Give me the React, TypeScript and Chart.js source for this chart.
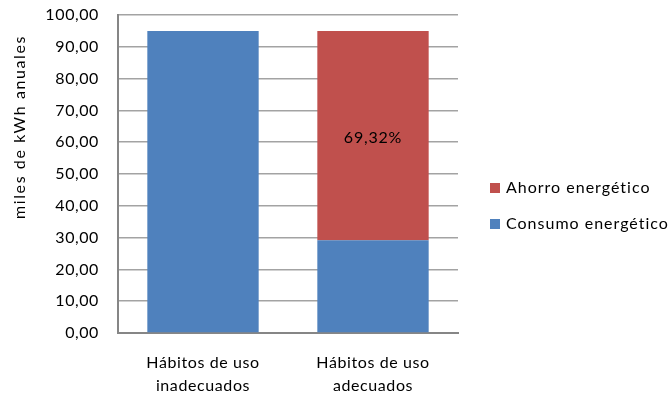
import React, { useEffect, useRef } from "react";
import { Chart, registerables } from "chart.js";

Chart.register(...registerables);

const categories: string[][] = [
  ["Hábitos de uso", "inadecuados"],
  ["Hábitos de uso", "adecuados"],
];
const consumo: number[] = [95.0, 29.15];
const ahorro: number[] = [0, 65.85];
const seriesNames: string[] = ["Consumo energético", "Ahorro energético"];
const yTitle = "miles de kWh anuales";

const BLUE = "#4F81BD";
const RED = "#C0504D";
const GRID = "#a3a3a3";
const AXIS = "#868686";
const FONT = "Lato, 'Noto Sans', sans-serif";

const fmt = (v: number) => v.toFixed(2).replace(".", ",");

const extrasPlugin = {
  id: "extras",
  beforeDraw(chart: any) {
    chart.ctx.letterSpacing = "0.6px";
  },
  afterDatasetsDraw(chart: any) {
    const ctx = chart.ctx;
    const meta = chart.getDatasetMeta(1);
    meta.data.forEach((bar: any, i: number) => {
      const a = ahorro[i];
      if (!a) return;
      const total = consumo[i] + ahorro[i];
      const pct = fmt((a / total) * 100) + "%";
      const cy = (bar.y + bar.base) / 2;
      ctx.save();
      ctx.letterSpacing = "0.8px";
      ctx.font = `16px ${FONT}`;
      ctx.fillStyle = "#000";
      ctx.textAlign = "center";
      ctx.textBaseline = "middle";
      ctx.fillText(pct, bar.x, cy + 2);
      ctx.restore();
    });
  },
  afterDraw(chart: any) {
    const ctx = chart.ctx;
    ctx.save();
    ctx.translate(20, 127);
    ctx.rotate(-Math.PI / 2);
    ctx.letterSpacing = "1.6px";
    ctx.font = `16px ${FONT}`;
    ctx.fillStyle = "#000";
    ctx.textAlign = "center";
    ctx.textBaseline = "middle";
    ctx.fillText(yTitle, 0, 0);
    ctx.restore();
    const items = [
      { label: seriesNames[1], color: RED, y: 188 },
      { label: seriesNames[0], color: BLUE, y: 224 },
    ];
    ctx.save();
    ctx.letterSpacing = "1px";
    ctx.font = `16px ${FONT}`;
    ctx.textBaseline = "middle";
    ctx.textAlign = "left";
    items.forEach((it) => {
      ctx.fillStyle = it.color;
      ctx.fillRect(490, it.y - 5, 10, 10);
      ctx.fillStyle = "#000";
      ctx.fillText(it.label, 506, it.y);
    });
    ctx.restore();
  },
};

export default function App() {
  const ref = useRef<HTMLCanvasElement | null>(null);
  useEffect(() => {
    document.body.style.margin = "0";
    if (!ref.current) return;
    const chart = new Chart(ref.current, {
      type: "bar",
      data: {
        labels: categories as any,
        datasets: [
          {
            label: seriesNames[0],
            data: consumo,
            backgroundColor: BLUE,
            borderWidth: 0,
            categoryPercentage: 1,
            barPercentage: 0.655,
          },
          {
            label: seriesNames[1],
            data: ahorro,
            backgroundColor: RED,
            borderWidth: 0,
            categoryPercentage: 1,
            barPercentage: 0.655,
          },
        ],
      },
      options: {
        animation: false,
        responsive: false,
        devicePixelRatio: 1,
        layout: { padding: { left: 0, right: 213, top: 15, bottom: 0 } },
        plugins: { legend: { display: false }, tooltip: { enabled: false } },
        scales: {
          x: {
            stacked: true,
            grid: { display: false, drawTicks: false },
            border: { display: true, color: AXIS, width: 2 },
            ticks: {
              color: "#000",
              font: { family: FONT, size: 16, lineHeight: 1.45 },
              padding: 18,
              maxRotation: 0,
            },
            afterFit: (s: any) => {
              s.height = 63;
              s.paddingLeft = 0;
              s.paddingRight = 0;
            },
          },
          y: {
            stacked: true,
            min: 0,
            max: 100,
            ticks: {
              stepSize: 10,
              color: "#000",
              font: { family: FONT, size: 16 },
              padding: 19,
              callback: (v: any) => fmt(Number(v)),
            },
            grid: { color: GRID, lineWidth: 1.6, drawTicks: false },
            border: { display: true, color: AXIS, width: 2 },
            afterFit: (s: any) => {
              s.width = 118;
              s.paddingTop = 0;
              s.paddingBottom = 0;
            },
          },
        },
      } as any,
      plugins: [extrasPlugin],
    });
    return () => chart.destroy();
  }, []);
  return <canvas ref={ref} width={671} height={396} style={{ display: "block" }} />;
}
